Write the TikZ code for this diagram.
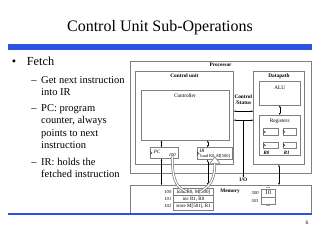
\documentclass[tikz,border=0pt]{standalone}
\usepackage{fontspec}
\setmainfont{Liberation Serif}
\usetikzlibrary{arrows.meta,positioning,calc}
\definecolor{slideblue}{HTML}{2B55E0}
\definecolor{boxgray}{HTML}{7F7F7F}

\begin{document}
\begin{tikzpicture}[x=1pt,y=-1pt,
  box/.style={draw=boxgray,line width=0.4pt,anchor=north west,inner sep=0pt},
  lbl/.style={font=\fontsize{5.3}{6}\selectfont\bfseries,inner sep=0pt},
  txt/.style={font=\fontsize{5}{6}\selectfont,inner sep=0pt},
  num/.style={font=\fontsize{4.6}{5}\selectfont\itshape,inner sep=0pt},
  bus/.style={<->,>={Latex[length=2pt,width=1.8pt]},line width=0.4pt},
  fetchline/.style={draw=gray,double=white,double distance=1.2pt,line width=0.7pt}]
\fill[white] (0,0) rectangle (320,240);
\useasboundingbox (0,0) rectangle (320,240);
% title and bar
\node[font=\fontsize{16}{19}\selectfont,anchor=base] (title) at (160,31.3) {Control Unit Sub-Operations};
\fill[slideblue] (7.5,44.5) rectangle (312.3,50);
% bullets
\node[font=\fontsize{12.3}{14}\selectfont,anchor=base] (dot) at (14,66) {\textbullet};
\node[font=\fontsize{12.3}{14}\selectfont,anchor=base west] (fetch) at (23.3,66) {Fetch};
\foreach \yy in {83.1,111.4,165.4}
  \node[font=\fontsize{10.5}{12}\selectfont,anchor=base west] at (27.8,\yy) {--};
\foreach \txt/\yy [count=\i] in {Get next instruction/83.1, into IR/95.4, PC: program/111.4,
    {counter, always}/123.7, points to next/136, instruction/148.3, IR: holds the/165.4,
    fetched instruction/177.6}
  \node[font=\fontsize{10.5}{12}\selectfont,anchor=base west] (line\i) at (37.7,\yy) {\txt};
% processor
\node[box,minimum width=180.7pt,minimum height=112.6pt] (processor) at (130,60.7) {};
\node[lbl,below=2.5pt] (proclbl) at (processor.north) {Processor};
\node[box,minimum width=98.3pt,minimum height=93.6pt] (controlunit) at (135,70.7) {};
\node[lbl,below=3pt] (culbl) at (controlunit.north) {Control unit};
\node[box,minimum width=88pt,minimum height=50pt] (controller) at (140.7,90) {};
\node[txt,font=\fontsize{5.3}{6}\selectfont,below=3.5pt] (ctrllbl) at (controller.north) {Controller};
\node[box,minimum width=28.3pt,minimum height=11pt] (pc) at (150,147.3) {};
\node[num,font=\fontsize{5}{6}\selectfont\itshape] (pclbl) at (157,151.5) {PC};
\node[num] (pcaddr) at (172.2,154.6) {100};
\node[box,minimum width=35.3pt,minimum height=12pt] (ir) at (197,147.3) {};
\node[num,font=\fontsize{5}{6}\selectfont\itshape] (irlbl) at (202,150.8) {IR};
\node[txt,font=\fontsize{4.4}{5}\selectfont] (irinstr) at (215.2,156.4) {load R0, M[500]};
% datapath
\node[box,minimum width=51pt,minimum height=93.6pt] (datapath) at (253.3,70.7) {};
\node[lbl,below=3pt] (dplbl) at (datapath.north) {Datapath};
\node[box,minimum width=41pt,minimum height=24pt] (alu) at (259,81) {};
\node[txt,font=\fontsize{5.3}{6}\selectfont,below=5pt] (alulbl) at (alu.north) {ALU};
\node[box,minimum width=41pt,minimum height=40pt] (registers) at (259,115) {};
\node[txt,font=\fontsize{5.3}{6}\selectfont,below=4pt] (reglbl) at (registers.north) {Registers};
\node[box,minimum width=14.4pt,minimum height=6.7pt] (r0a) at (263.3,128.3) {};
\node[box,minimum width=13.3pt,minimum height=6.7pt] (r1a) at (282.7,128.3) {};
\node[box,minimum width=14.4pt,minimum height=6.7pt] (r0b) at (263.3,141.7) {};
\node[box,minimum width=13.3pt,minimum height=6.7pt] (r1b) at (282.7,141.7) {};
\node[num,font=\fontsize{5}{6}\selectfont\itshape\bfseries,anchor=north west] (r0lbl) at ([yshift=-2pt]r0b.south west) {R0};
\node[num,font=\fontsize{5}{6}\selectfont\itshape\bfseries,anchor=north west] (r1lbl) at ([yshift=-2pt,xshift=1pt]r1b.south west) {R1};
\foreach \reg in {pc,ir,r0a,r1a,r0b,r1b}
  \draw[line width=0.3pt] ([yshift=1.4pt]\reg.west) -- ([xshift=2.2pt]\reg.west) -- ([yshift=-1.4pt]\reg.west);
% control / status and I/O
\node[lbl,align=center] (cslbl) at (243.3,100) {Control\\/Status};
\draw[bus] ([yshift=6.5pt]controlunit.east) -- ([yshift=6.5pt]controlunit.east -| datapath.west);
\draw[bus] ([yshift=-2.5pt]controlunit.east) -- ([yshift=-2.5pt]controlunit.east -| datapath.west);
\coordinate (tap) at (243.3,120);
\node[lbl] (io) at (243.3,179.5) {I/O};
\draw[->,>={Latex[length=2pt,width=1.8pt]},line width=0.4pt] (tap) -- (io.north);
% memory
\node[box,minimum width=180.7pt,minimum height=28pt] (memory) at (130,185) {};
\node[lbl] (memlbl) at (230,191) {Memory};
\foreach \ins/\yy [count=\i from 0] in {{load R0, M[500]}/188, {inc R1, R0}/195.2, {store M[501], R1}/202.4}
  \node[box,txt,minimum width=40pt,minimum height=7.2pt,anchor=north west] (row\i) at (173.3,\yy) {\ins};
\foreach \adr [count=\i from 0] in {100,101,102}
  \node[num,left=1.8pt of row\i] (adr\i) {\adr};
\node[box,txt,font=\fontsize{6}{7}\selectfont,minimum width=13.3pt,minimum height=7.5pt] (m500) at (261.3,189) {10};
\node[box,minimum width=13.3pt,minimum height=7.5pt,below=0pt of m500] (m501) {};
\node[num,left=2.5pt of m500] (adr500) {500};
\node[num,left=2.5pt of m501] (adr501) {501};
\node[txt,font=\fontsize{5}{5}\selectfont\bfseries,above=0.2pt of m500] (dtop) {...};
\node[txt,font=\fontsize{5}{5}\selectfont\bfseries,below=0.2pt of m501] (dbot) {...};
% connections
\draw[bus] ([xshift=-2.85pt]pc.north) -- ([xshift=-2.85pt]pc.north |- controller.south);
\draw[bus] ([xshift=-7.15pt]ir.north) -- ([xshift=-7.15pt]ir.north |- controller.south);
\draw[bus] ([xshift=-2.85pt]pc.south) -- ([xshift=-2.85pt]pc.south |- memory.north);
\draw[bus] ([xshift=-7.15pt]ir.south) -- ([xshift=-7.15pt]ir.south |- memory.north);
\draw[bus] (alu.south) -- (registers.north);
\draw[bus] (datapath.south) -- (datapath.south |- memory.north);
% fetch arrows
\draw[fetchline] (pcaddr.south) .. controls +(0,28) and +(-8,-4) .. ([xshift=-7pt]row0.center);
\draw[fetchline] ([xshift=7pt]row0.center) .. controls +(7,-5) and +(0,20) .. ([yshift=-3.5pt]ir.south);
\draw[draw=gray,fill=white,line width=0.6pt] ([yshift=2.8pt]ir.south) -- ++(5,6.5) -- ++(-10,0) -- cycle;
% bottom bar and page number
\fill[slideblue] (7.5,212.7) rectangle (312.3,215.3);
\node[txt,font=\fontsize{5.5}{6}\selectfont] (pagenum) at (307,223) {6};
\end{tikzpicture}
\end{document}
